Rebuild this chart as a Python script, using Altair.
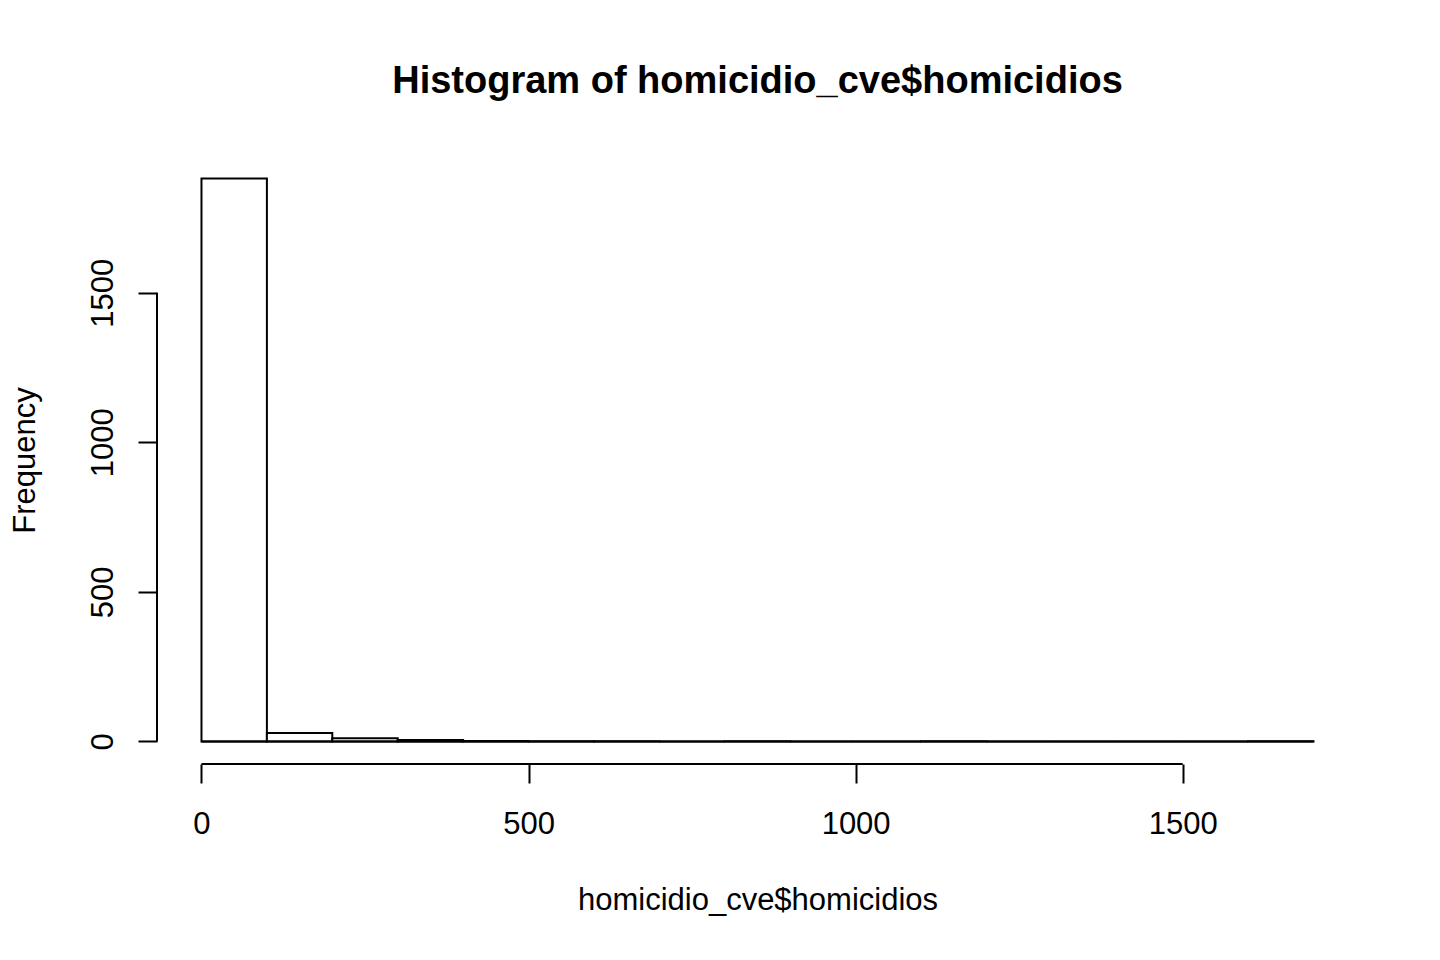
import altair as alt
import pandas as pd

# ---- data ----
bin_start = list(range(0, 1700, 100))
bin_end = list(range(100, 1800, 100))
counts = [1882, 28, 11, 5, 2, 1, 1, 0, 1, 0, 0, 1, 0, 0, 0, 0, 1]
x_ticks = [0, 500, 1000, 1500]
y_ticks = [0, 500, 1000, 1500]
main_title = "Histogram of homicidio_cve$homicidios"
x_title = "homicidio_cve$homicidios"
y_title = "Frequency"

FONT = "Liberation Sans"
W, H = 1201, 608
x_dom = [bin_start[0] - 0.04 * (bin_end[-1] - bin_start[0]),
         bin_end[-1] + 0.04 * (bin_end[-1] - bin_start[0])]
y_dom = [-0.04 * max(counts), 1.04 * max(counts)]

xs = alt.Scale(domain=x_dom, nice=False, zero=False)
ys = alt.Scale(domain=y_dom, nice=False, zero=False)

x_axis = alt.Axis(values=x_ticks, domain=False, grid=False, ticks=True, tickSize=19,
                  tickWidth=2, tickColor="black", labelFontSize=31, labelFont=FONT,
                  labelColor="black", labelPadding=50, labelBaseline="alphabetic",
                  labelAngle=0, labelFlush=False, labelOverlap=False, format="d",
                  title=x_title, titleFontSize=31, titleFont=FONT, titleFontWeight="normal",
                  titleColor="black", titleBaseline="alphabetic", titleY=145)
y_axis = alt.Axis(values=y_ticks, domain=False, grid=False, ticks=True, tickSize=19,
                  tickWidth=2, tickColor="black", labelFontSize=31, labelFont=FONT,
                  labelColor="black", labelPadding=26, labelBaseline="alphabetic",
                  labelAngle=270, labelAlign="center", labelFlush=False, labelOverlap=False,
                  format="d", title=y_title, titleFontSize=31, titleFont=FONT,
                  titleFontWeight="normal", titleColor="black", titleAngle=270,
                  titleBaseline="alphabetic", titleAlign="center", titleX=-123, titleY=H / 2)

df = pd.DataFrame({"start": bin_start, "end": bin_end, "count": counts, "zero": [0] * len(counts)})

bars = alt.Chart(df).mark_rect(fill="white", stroke="black", strokeWidth=2).encode(
    x=alt.X("start:Q", scale=xs, axis=x_axis),
    x2="end:Q",
    y=alt.Y("count:Q", scale=ys, axis=y_axis),
    y2="zero:Q",
)

base_df = pd.DataFrame({"start": [bin_start[0]], "end": [bin_end[-1]], "count": [0]})
baseline = alt.Chart(base_df).mark_rule(color="black", strokeWidth=2).encode(
    x=alt.X("start:Q", scale=xs, axis=x_axis),
    x2="end:Q",
    y=alt.Y("count:Q", scale=ys, axis=y_axis),
)

xdom_df = pd.DataFrame({"start": [x_ticks[0]], "end": [x_ticks[-1]]})
x_line = alt.Chart(xdom_df).mark_rule(color="black", strokeWidth=2).encode(
    x=alt.X("start:Q", scale=xs, axis=x_axis),
    x2="end:Q",
    y=alt.value(H),
)

ydom_df = pd.DataFrame({"count": [y_ticks[0]], "end": [y_ticks[-1]]})
y_line = alt.Chart(ydom_df).mark_rule(color="black", strokeWidth=2).encode(
    y=alt.Y("count:Q", scale=ys, axis=y_axis),
    y2="end:Q",
    x=alt.value(0),
)

chart = alt.layer(bars, baseline, x_line, y_line).properties(
    width=W,
    height=H,
    autosize=alt.AutoSizeParams(type="none"),
    padding={"left": 149, "top": 148, "right": 74, "bottom": 188},
    title=alt.TitleParams(main_title, fontSize=38, font=FONT, fontWeight="bold",
                          color="black", anchor="middle", baseline="alphabetic", offset=25),
    background="white",
).configure_view(stroke=None)

chart.save("out.html", embed_options={"renderer": "svg", "actions": False})
